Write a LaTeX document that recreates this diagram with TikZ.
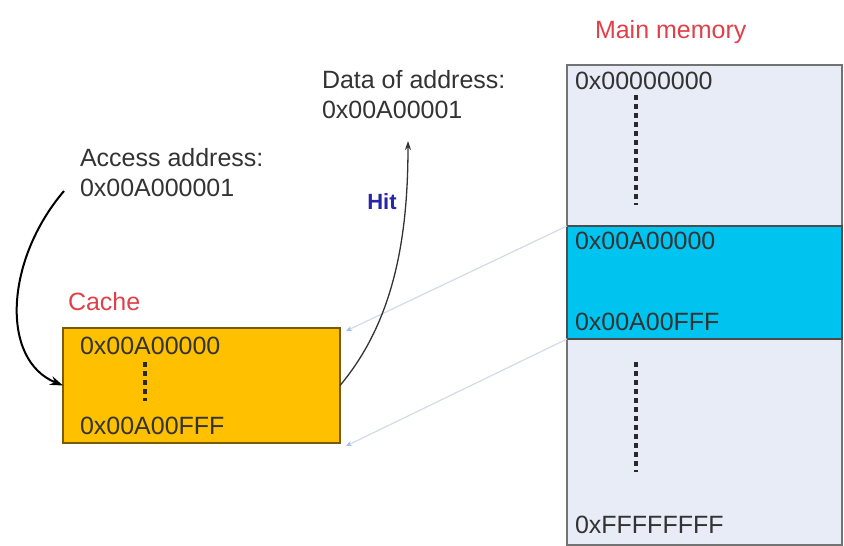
\documentclass[tikz,border=0pt]{standalone}
\usepackage{fontspec}
\setmainfont{Liberation Sans}
\usetikzlibrary{arrows.meta}
\definecolor{txtgray}{HTML}{333333}
\definecolor{memfill}{HTML}{E8ECF6}
\definecolor{bandfill}{HTML}{00C4F0}
\definecolor{cachefill}{HTML}{FFC000}
\definecolor{cacheedge}{HTML}{7A5A00}
\definecolor{labelred}{HTML}{E0404A}
\definecolor{hitblue}{HTML}{2626A6}
\definecolor{maplink}{HTML}{D4DAE6}
\definecolor{maptip}{HTML}{9FC3EA}

\begin{document}
\begin{tikzpicture}[x=1pt, y=-1pt,
  every node/.style={font=\fontsize{25}{30}\selectfont, text=txtgray, inner sep=0pt, outer sep=0pt},
  region/.style={draw, line width=1.2pt, anchor=north west},
  dotline/.style={line width=3.5pt, dash pattern=on 5pt off 4pt, txtgray!80!black},
  maparrow/.style={maplink, line width=1.2pt, -{Stealth[length=6pt, width=5pt, color=maptip]}},
  title/.style={text=labelred, anchor=base west}]
\useasboundingbox (0,0) rectangle (844,546);

% main memory
\node[region, fill=memfill, draw=gray!90!black, minimum width=275pt, minimum height=480pt] (mem) at (567,65) {};
\node[region, fill=bandfill, draw=gray!60!black, minimum width=275pt, minimum height=113pt] (band) at (567,226) {};
\node[title] (memtitle) at (595,38) {Main memory};
\node[anchor=base west] (mtop) at (575,89) {0x00000000};
\node[anchor=base west] (mbstart) at (575,249) {0x00A00000};
\node[anchor=base west] (mbend) at (575,330) {0x00A00FFF};
\node[anchor=base west] (mlast) at (575,533) {0xFFFFFFFF};
\draw[dotline] (636,95) -- (636,205);
\draw[dotline] (636,362) -- (636,472);

% cache
\node[region, fill=cachefill, draw=cacheedge, minimum width=277pt, minimum height=115pt] (cache) at (63,328) {};
\node[title] (cachetitle) at (68,310) {Cache};
\node[anchor=base west] (cstart) at (80,354) {0x00A00000};
\node[anchor=base west] (cend) at (80,434) {0x00A00FFF};
\draw[dotline] (145,362) -- (145,401);

% mapping of the block
\draw[maparrow] (band.north west) -- ([xshift=6pt,yshift=-3pt]cache.north east);
\draw[maparrow] (band.south west) -- ([xshift=6pt,yshift=-3pt]cache.south east);

% access and hit
\node[anchor=north west, align=left] (access) at (80,148) {Access address:\\0x00A000001};
\node[anchor=north west, align=left] (data) at (322,70) {Data of address:\\0x00A00001};
\coordinate (astart) at (64,191);
\coordinate (hitend) at (408,141);
\draw[line width=2pt, -{Stealth[length=13pt, width=9pt]}] (astart) .. controls (5,260) and (0,360) .. (cache.west);
\draw[line width=1.3pt, txtgray, -{Stealth[length=9pt, width=6pt]}] (cache.east) .. controls (395,320) and (408,235) .. (hitend);
\node[font=\fontsize{22}{26}\bfseries, text=hitblue] (hit) at (382,202) {Hit};
\end{tikzpicture}
\end{document}
